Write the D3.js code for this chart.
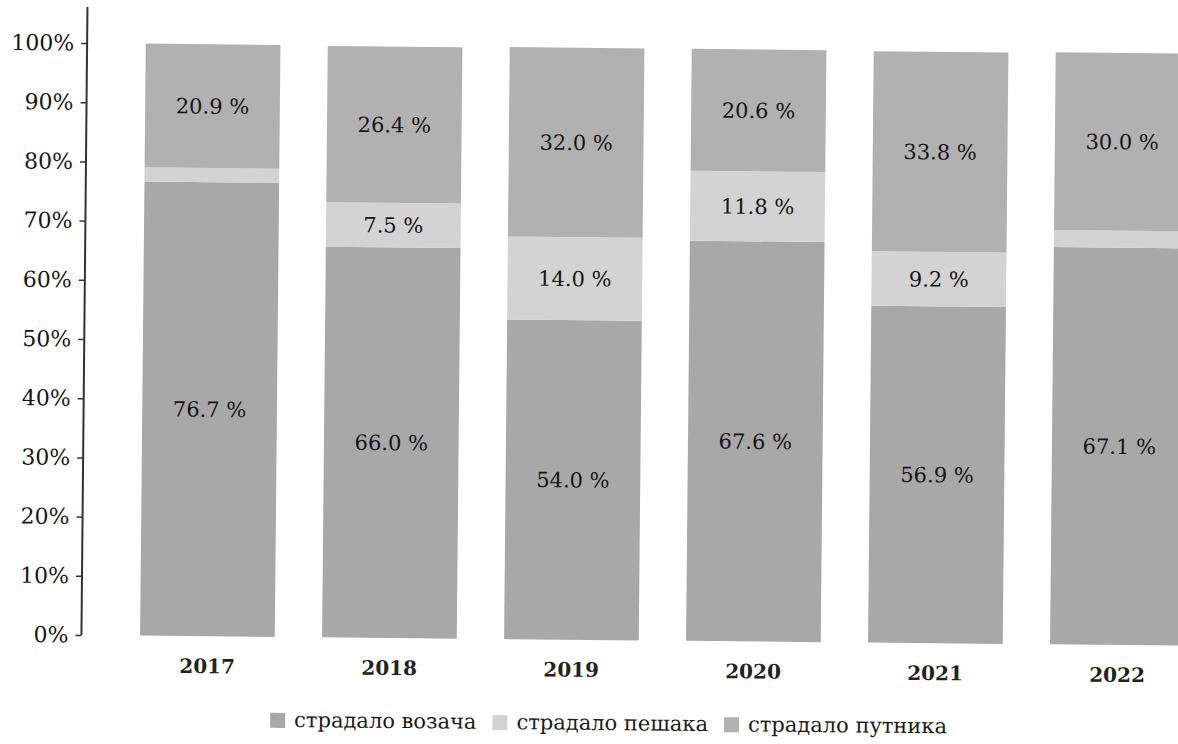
<!DOCTYPE html>
<html>
<head>
<meta charset="utf-8">
<script src="https://cdn.jsdelivr.net/npm/d3@7"></script>
<style>
	body { margin: 0; background: #fff; }
	svg { display: block; }
</style>
</head>
<body>
<svg id="chart" width="1178" height="744"></svg>
<script>
var years = ["2017", "2018", "2019", "2020", "2021", "2022"];
var drivers = [76.7, 66.0, 54.0, 67.6, 56.9, 67.1];
var pedestrians = [2.4, 7.5, 14.0, 11.8, 9.2, 2.9];
var passengers = [20.9, 26.4, 32.0, 20.6, 33.8, 30.0];
var seriesNames = ["страдало возача", "страдало пешака", "страдало путника"];
var yTicks = [0, 10, 20, 30, 40, 50, 60, 70, 80, 90, 100];

var colors = ["#a8a8a8", "#d3d3d3", "#b1b1b1"];
var serif = "'DejaVu Serif', serif";

var svg = d3.select("#chart");

// the scan is a little tilted, so the whole plot gets a small turn
var g = svg.append("g")
	.attr("transform", "rotate(0.55, 600, 370)");

var x = d3.scaleBand()
	.domain(years)
	.range([119, 1211])
	.paddingInner(0.26)
	.paddingOuter(0.13);

var y = d3.scaleLinear()
	.domain([0, 100])
	.range([640, 48]);

var rows = years.map(function(yr, i) {
	return {year: yr, driver: drivers[i], pedestrian: pedestrians[i], passenger: passengers[i]};
});

var stack = d3.stack().keys(["driver", "pedestrian", "passenger"]);
var layers = stack(rows);

// bars
var layerG = g.selectAll(".layer")
	.data(layers)
	.enter().append("g")
		.attr("class", "layer")
		.attr("fill", function(d, i) { return colors[i]; });

layerG.selectAll("rect")
	.data(function(d) { return d; })
	.enter().append("rect")
		.attr("x", function(d) { return x(d.data.year); })
		.attr("width", x.bandwidth())
		.attr("y", function(d) { return y(d[1]); })
		.attr("height", function(d) { return y(d[0]) - y(d[1]); });

// value labels, small pedestrian shares are not labelled
layerG.selectAll("text")
	.data(function(d) {
		return d.filter(function(s) { return s[1] - s[0] >= 5; });
	})
	.enter().append("text")
		.attr("x", function(d) { return x(d.data.year) + x.bandwidth() / 2; })
		.attr("y", function(d) { return (y(d[0]) + y(d[1])) / 2; })
		.attr("dy", "0.36em")
		.attr("text-anchor", "middle")
		.attr("font-family", serif)
		.attr("font-size", 21)
		.attr("fill", "#151515")
		.text(function(d) { return (d[1] - d[0]).toFixed(1) + " %"; });

// y axis
var yAxis = g.append("g")
	.attr("transform", "translate(84, 0)")
	.call(d3.axisLeft(y)
		.tickValues(yTicks)
		.tickSize(6)
		.tickFormat(function(d) { return d + "%"; }));
yAxis.select(".domain").remove();
yAxis.append("line")
	.attr("x1", 0).attr("x2", 0)
	.attr("y1", 12).attr("y2", y(0))
	.attr("stroke", "#333")
	.attr("stroke-width", 2);
yAxis.selectAll(".tick line").attr("stroke", "#333").attr("stroke-width", 1.5);
yAxis.selectAll(".tick text")
	.attr("x", -13)
	.attr("font-family", serif)
	.attr("font-size", 22)
	.attr("fill", "#151515");

// year labels
g.selectAll(".year")
	.data(years)
	.enter().append("text")
		.attr("class", "year")
		.attr("x", function(d) { return x(d) + x.bandwidth() / 2; })
		.attr("y", 677)
		.attr("text-anchor", "middle")
		.attr("font-family", serif)
		.attr("font-weight", "bold")
		.attr("font-size", 20)
		.attr("fill", "#222")
		.text(function(d) { return d; });

// legend
var legend = g.append("g").attr("class", "legend");
var item = legend.selectAll(".item")
	.data(seriesNames)
	.enter().append("g")
		.attr("class", "item");
item.append("rect")
	.attr("width", 15)
	.attr("height", 15)
	.attr("y", -14)
	.attr("fill", function(d, i) { return colors[i]; });
item.append("text")
	.attr("x", 24)
	.attr("font-family", serif)
	.attr("font-size", 21)
	.attr("fill", "#1a1a1a")
	.text(function(d) { return d; });

var offset = 0;
item.each(function() {
	var w = this.getBBox().width;
	d3.select(this).attr("transform", "translate(" + offset + ", 0)");
	offset += w + 16;
});
legend.attr("transform", "translate(" + (612 - (offset - 16) / 2) + ", 730)");
</script>
</body>
</html>
